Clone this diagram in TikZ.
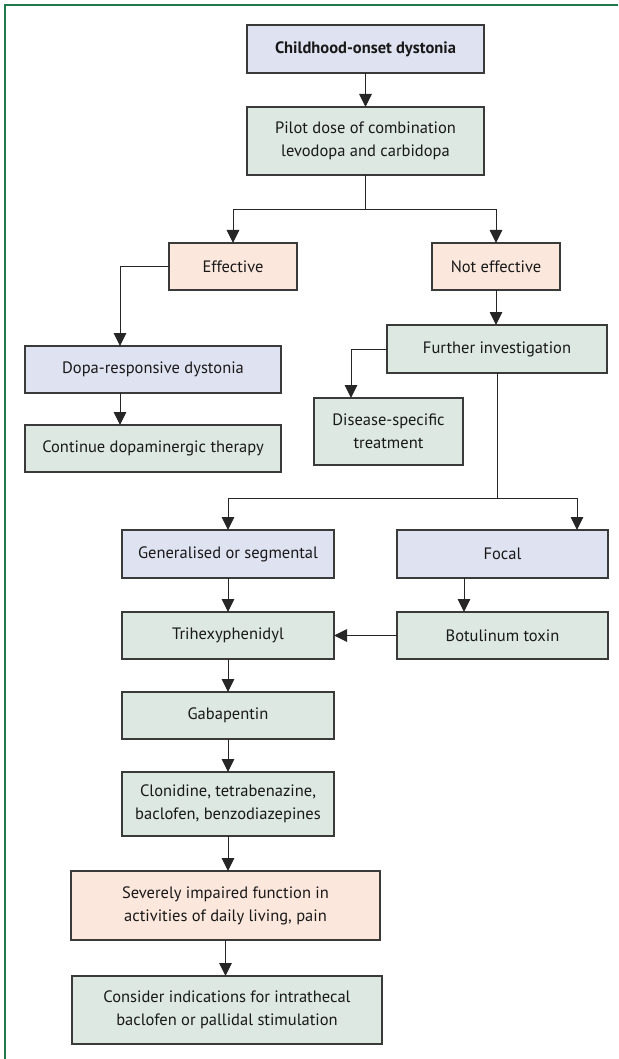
\documentclass[tikz,border=0pt]{standalone}
\usepackage{fontspec}
\setmainfont{PT Sans}
\usetikzlibrary{arrows.meta}
\definecolor{lavbox}{HTML}{DFE3F1}
\definecolor{greenbox}{HTML}{DCE8E1}
\definecolor{peachbox}{HTML}{FCE7DC}
\definecolor{edge}{HTML}{3A3A3A}
\definecolor{framegreen}{HTML}{1E7A48}
% box: name, left, top, width, height, fill, text
\newcommand{\flowbox}[7]{
  \node[box,fill=#6,minimum width=#4,minimum height=#5] (#1) at (#2,#3) {#7};
}

\begin{document}
\begin{tikzpicture}[x=1pt,y=-1pt,
    box/.style={draw=edge,line width=1.2pt,anchor=north west,inner sep=2pt,
      outer sep=0pt,align=center,text=black!90,
      font=\fontsize{16.5}{23}\selectfont},
    conn/.style={draw=black!85,line width=1pt},
    arr/.style={conn,-{Triangle[length=13pt,width=12.5pt]}}]
    \useasboundingbox (0,0) rectangle (618,1059);
    \draw[framegreen,line width=1.5pt] (618,5) -- (5,5) -- (5,1059);% page frame

    \flowbox{onset}{247}{25}{237}{48}{lavbox}{\bfseries Childhood-onset dystonia}
    \flowbox{pilot}{247}{107}{237}{68}{greenbox}{Pilot dose of combination\\levodopa and carbidopa}
    \flowbox{eff}{169}{243}{128}{47}{peachbox}{Effective}
    \flowbox{noteff}{432}{243}{128}{47}{peachbox}{Not effective}
    \flowbox{dopa}{25}{346}{256}{47}{lavbox}{Dopa-responsive dystonia}
    \flowbox{cont}{25}{425}{256}{47}{greenbox}{Continue dopaminergic therapy}
    \flowbox{further}{387}{325}{220}{48}{greenbox}{Further investigation}
    \flowbox{disease}{314}{398}{149}{67}{greenbox}{Disease-specific\\treatment}
    \flowbox{gen}{122}{530}{212}{48}{lavbox}{Generalised or segmental}
    \flowbox{focal}{397}{530}{211}{48}{lavbox}{Focal}
    \flowbox{trihex}{122}{612}{212}{47}{greenbox}{Trihexyphenidyl}
    \flowbox{botu}{397}{612}{211}{47}{greenbox}{Botulinum toxin}
    \flowbox{gaba}{122}{692}{212}{47}{greenbox}{Gabapentin}
    \flowbox{cloni}{122}{772}{212}{64}{greenbox}{Clonidine, tetrabenazine,\\baclofen, benzodiazepines}
    \flowbox{severe}{71}{871}{309}{69}{peachbox}{Severely impaired function in\\activities of daily living, pain}
    \flowbox{consider}{72}{976}{310}{68}{greenbox}{Consider indications for intrathecal\\baclofen or pallidal stimulation}

    \draw[arr] (onset.south) -- (pilot.north);
    \draw[conn] (pilot.south) -- ++(0,35) coordinate (fork1);
    \draw[arr] (fork1) -| (eff.north);
    \draw[arr] (fork1) -| (noteff.north);

    \draw[arr] (eff.west) -| ([xshift=95pt]dopa.north west);
    \draw[arr] ([xshift=95pt]dopa.south west) -- ([xshift=95pt]cont.north west);

    \draw[arr] (noteff.south) -- (noteff.south |- further.north);
    \draw[arr] (further.west) -| ([xshift=37pt]disease.north west);
    \draw[conn] (further.south) -- ++(0,125) coordinate (fork2);
    \draw[arr] (fork2) -| (gen.north);
    \draw[arr] (fork2) -| ([xshift=180pt]focal.north west);

    \draw[arr] ([xshift=67pt]focal.south west) -- ([xshift=67pt]botu.north west);
    \draw[arr] (botu.west) -- (trihex.east);
    \foreach \a/\b in {gen/trihex,trihex/gaba,gaba/cloni,cloni/severe,severe/consider}
      \draw[arr] (\a.south) -- (\a.south |- \b.north);
  \end{tikzpicture}
\end{document}
